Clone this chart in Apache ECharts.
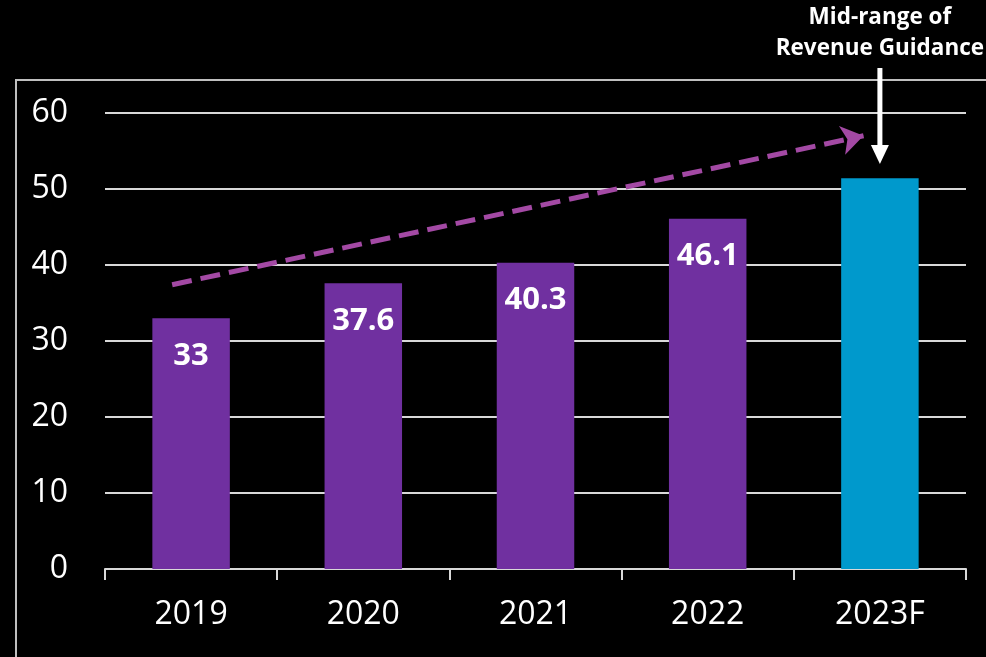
<!DOCTYPE html>
<html>
<head>
<meta charset="utf-8">
<script src="https://cdn.jsdelivr.net/npm/echarts@6/dist/echarts.min.js"></script>
<style>html,body{margin:0;padding:0;background:#000;}#c{width:986px;height:657px;}</style>
</head>
<body>
<div id="c"></div>
<script>
const categories = ['2019', '2020', '2021', '2022', '2023F'];
const revenue = [33, 37.6, 40.3, 46.1, 51.4];
const barLabels = ['33', '37.6', '40.3', '46.1', ''];
const forecastIndex = 4;
const yMin = 0, yMax = 60, yInterval = 10;
// trend arrow endpoints: [category position, value]
const trendStart = [-0.11, 37.4];
const trendEnd = [3.905, 57.0];
const annotationText = 'Mid-range of\nRevenue Guidance';

const FONT = 'Open Sans';
const chart = echarts.init(document.getElementById('c'), null, {renderer: 'canvas'});

chart.setOption({
  backgroundColor: '#000',
  animation: false,
  grid: {left: 105, right: 20, top: 113, bottom: 88},
  xAxis: [{
    type: 'category',
    data: categories,
    axisLine: {lineStyle: {color: '#d9d9d9', width: 2}},
    axisTick: {show: true, length: 11, lineStyle: {color: '#d9d9d9', width: 2}},
    axisLabel: {color: '#fff', fontSize: 32, fontFamily: FONT, margin: 30}
  }, {
    type: 'value', min: -0.5, max: 4.5, show: false
  }],
  yAxis: {
    type: 'value', min: yMin, max: yMax, interval: yInterval,
    axisLine: {show: false}, axisTick: {show: false},
    axisLabel: {color: '#fff', fontSize: 32, fontFamily: FONT, margin: 37},
    splitLine: {lineStyle: {color: '#d9d9d9', width: 2}}
  },
  series: [{
    type: 'bar',
    barWidth: '45%',
    data: revenue.map((v, i) => ({
      value: v,
      itemStyle: {color: i === forecastIndex ? '#0099CC' : '#7030A0'}
    })),
    label: {
      show: true, position: 'insideTop', distance: 22,
      color: '#fff', fontSize: 31, fontWeight: 'bold', fontFamily: FONT,
      formatter: p => barLabels[p.dataIndex]
    },
    silent: true
  }, {
    type: 'line',
    xAxisIndex: 1,
    data: [trendStart, trendEnd],
    symbol: 'none',
    lineStyle: {opacity: 0},
    silent: true,
    markLine: {
      silent: true,
      symbol: ['none', 'arrow'],
      symbolSize: 22,
      label: {show: false},
      lineStyle: {color: '#A349A4', width: 5, type: [20, 9]},
      itemStyle: {color: '#A349A4'},
      emphasis: {disabled: true},
      data: [[{coord: trendStart}, {coord: trendEnd}]]
    }
  }]
});

const ax = chart.convertToPixel({xAxisIndex: 0}, categories[forecastIndex]);
chart.setOption({
  graphic: [
    {type: 'rect', shape: {x: 16, y: 80, width: 1100, height: 700}, style: {fill: 'none', stroke: '#bfbfbf', lineWidth: 2}, silent: true},
    {type: 'rect', shape: {x: ax - 2.5, y: 68, width: 5, height: 80}, style: {fill: '#fff'}, silent: true},
    {type: 'polygon', shape: {points: [[ax - 9, 145], [ax + 9, 145], [ax, 164]]}, style: {fill: '#fff'}, silent: true},
    {type: 'text', x: ax, y: 33, style: {text: annotationText, fill: '#fff', font: 'bold 22.5px "Open Sans"', align: 'center', verticalAlign: 'middle', lineHeight: 31}, silent: true}
  ]
});
</script>
</body>
</html>
